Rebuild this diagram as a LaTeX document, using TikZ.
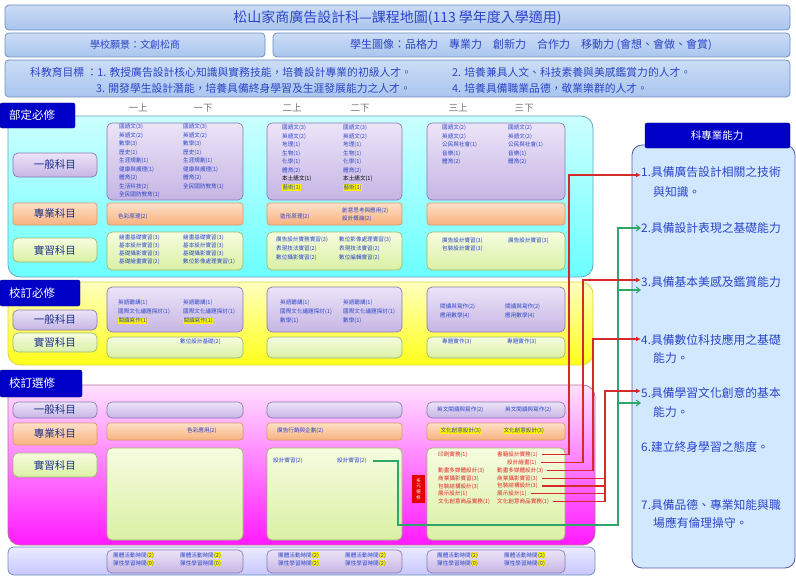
\documentclass[tikz,border=0pt]{standalone}
\usepackage{fontspec}
\setmainfont{Noto Sans CJK TC}
\usetikzlibrary{arrows.meta,calc}

\definecolor{crsblue}{HTML}{2B45C8}
\definecolor{labblue}{HTML}{1C2F8C}
\definecolor{tagblue}{HTML}{0000C8}
\definecolor{abred}{HTML}{D42A2A}
\definecolor{abgreen}{HTML}{2EA86A}
\definecolor{txred}{HTML}{E02828}
\definecolor{barline}{HTML}{6F8FC0}
\definecolor{bartop}{HTML}{A9C5EE}
\definecolor{lavline}{HTML}{8C7BB0}
\definecolor{lavtop}{HTML}{ECE4F8}
\definecolor{lavbot}{HTML}{C6B5E4}
\definecolor{orgline}{HTML}{D89A6A}
\definecolor{orgtop}{HTML}{FDE0C8}
\definecolor{orgbot}{HTML}{F8B27E}
\definecolor{grnline}{HTML}{9CB870}
\definecolor{grntop}{HTML}{F6FCE0}
\definecolor{grnbot}{HTML}{DAF0A4}

\newcommand\crsfont{\fontsize{5.6}{8.5}\selectfont}
\newcommand\hlt[1]{{\setlength{\fboxsep}{0.3pt}\colorbox{yellow}{#1}}}

\begin{document}
\begin{tikzpicture}[x=1pt,y=-1pt,
  every node/.style={inner sep=0pt},
  bar/.style={draw=barline,line width=0.8pt,rounded corners=4pt,top color=white!40!bartop,bottom color=bartop},
  tagbox/.style={draw=black!60!blue,fill=tagblue,rounded corners=2pt},
  tagtext/.style={anchor=west,text=white,font=\fontsize{11.5}{11.5}\selectfont},
  lav/.style={draw=lavline,line width=0.7pt,rounded corners=5pt,top color=lavtop,bottom color=lavbot},
  org/.style={draw=orgline,line width=0.7pt,rounded corners=3pt,top color=orgtop,bottom color=orgbot},
  grn/.style={draw=grnline,line width=0.7pt,rounded corners=5pt,top color=grntop,bottom color=grnbot},
  rowlab/.style={minimum width=84pt,text=labblue,font=\fontsize{10.5}{10.5}\selectfont},
  crs/.style={anchor=north west,align=left,text=crsblue,font=\crsfont},
  one/.style={anchor=west,text=crsblue,font=\crsfont},
  sem/.style={text=black!55,font=\fontsize{9.5}{9.5}\selectfont},
  hd/.style={text=crsblue},
  abil/.style={anchor=west,text=crsblue,font=\fontsize{11.8}{11.8}\selectfont},
  redln/.style={abred,line width=1.2pt,shorten <=4pt},
  redarr/.style={redln,-{Latex[length=5pt,width=5pt]}},
  grnln/.style={abgreen,line width=1.1pt,shorten <=6pt},
  grnarr/.style={grnln,-{Straight Barb[length=4pt,width=6pt]}},
]
\useasboundingbox (0,0) rectangle (796,578);

% header rows
\path[bar] (5,5) rectangle (790,30);
\node[hd,font=\fontsize{14}{14}\selectfont] (title) at (397.5,17.5) {松山家商廣告設計科—課程地圖(113 學年度入學適用)};
\path[bar] (5,33) rectangle (265,57);
\node[hd,font=\fontsize{10}{10}\selectfont] (vision) at (135,45) {學校願景：文創松商};
\path[bar] (273,33) rectangle (790,57);
\node[hd,font=\fontsize{11}{11}\selectfont] (portrait) at (531,45) {學生圖像：品格力\quad 專業力\quad 創新力\quad 合作力\quad 移動力 (會想、會做、會賞)};
\path[bar] (5,60) rectangle (790,97);
\node[hd,anchor=west,font=\fontsize{10.8}{10.8}\selectfont] (goal1) at (30,72) {科教育目標 ：1. 教授廣告設計核心知識與實務技能，培養設計專業的初級人才。};
\node[hd,anchor=west,font=\fontsize{10.8}{10.8}\selectfont] (goal2) at (452,72) {2. 培養兼具人文、科技素養與美感鑑賞力的人才。};
\node[hd,anchor=west,font=\fontsize{10.8}{10.8}\selectfont] (goal3) at (96,88) {3. 開發學生設計潛能，培養具備終身學習及生涯發展能力之人才。};
\node[hd,anchor=west,font=\fontsize{10.8}{10.8}\selectfont] (goal4) at (452,88) {4. 培養具備職業品德，敬業樂群的人才。};

% panels
\path[draw=cyan!50!gray,line width=0.8pt,top color=cyan!20,bottom color=cyan!58,rounded corners=12pt] (8,116) rectangle (593,277);
\path[draw=yellow!70!gray,line width=0.8pt,top color=yellow!25,bottom color=yellow!90,rounded corners=12pt] (8,282) rectangle (593,365);
\path[draw=magenta!40!gray,line width=0.8pt,top color=magenta!12,bottom color=magenta!90,rounded corners=12pt] (8,385) rectangle (595,545);
\path[draw=barline,line width=0.8pt,top color=blue!8,bottom color=blue!22,rounded corners=6pt] (8,547) rectangle (595,575);

% section tags
\path[tagbox] (0,103) rectangle (75,128);
\node[tagtext] (tagA) at (9,115.5) {部定必修};
\path[tagbox] (0,280) rectangle (80,306);
\node[tagtext] (tagB) at (9,293) {校訂必修};
\path[tagbox] (0,370) rectangle (82,397);
\node[tagtext] (tagC) at (9,383.5) {校訂選修};

% semesters
\foreach \x/\t [count=\i] in {138/一上,203/一下,292/二上,360/二下,458/三上,524/三下}
  \node[sem] (sem\i) at (\x,108) {\t};

% row labels
\foreach \n/\y/\h/\s/\t in {A1/165/24/lav/一般科目,A2/214/22/org/專業科目,A3/250/24/grn/實習科目,
  B1/320/20/lav/一般科目,B3/342.5/19/grn/實習科目,
  C1/410/16/lav/一般科目,C2/434/22/org/專業科目,C3/465/24/grn/實習科目}
  \node[\s,rowlab,minimum height=\h pt] (lab\n) at (55,\y) {\t};

% course boxes
\foreach \l/\r in {107/243,267/402,427/565}{
  \path[lav] (\l,123) rectangle (\r,200);
  \path[org] (\l,203) rectangle (\r,225);
  \path[grn] (\l,232) rectangle (\r,270);
  \path[lav] (\l,287) rectangle (\r,332);
  \path[grn] (\l,337) rectangle (\r,358);
  \path[lav] (\l,402) rectangle (\r,418);
  \path[org] (\l,423) rectangle (\r,440);
  \path[grn] (\l,448) rectangle (\r,540);
  \path[lav] (\l,550) rectangle (\r,573);
}

% 部定必修
\node[crs] (A1gl) at (119,124) {國語文(3)\\英語文(2)\\數學(3)\\歷史(1)\\生涯規劃(1)\\健康與護理(1)\\體育(2)\\生活科技(2)\\全民國防教育(1)};
\node[crs] (A1gr) at (183,124) {國語文(3)\\英語文(2)\\數學(3)\\歷史(1)\\生涯規劃(1)\\健康與護理(1)\\體育(2)\\全民國防教育(1)};
\node[crs] (A2gl) at (282,125) {國語文(3)\\英語文(2)\\地理(1)\\生物(1)\\化學(1)\\體育(2)\\\textcolor{black}{本土語文(1)}\\\hlt{藝術(1)}};
\node[crs] (A2gr) at (343,125) {國語文(3)\\英語文(2)\\地理(1)\\生物(1)\\化學(1)\\體育(2)\\\textcolor{black}{本土語文(1)}\\\hlt{藝術(1)}};
\node[crs] (A3gl) at (442,125) {國語文(2)\\英語文(2)\\公民與社會(1)\\音樂(1)\\體育(2)};
\node[crs] (A3gr) at (508,125) {國語文(2)\\英語文(2)\\公民與社會(1)\\音樂(1)\\體育(2)};
\node[one] (A1p) at (118,217) {色彩原理(2)};
\node[one] (A2pl) at (280,217) {造形原理(2)};
\node[crs] (A2pr) at (342,207) {創意思考與應用(2)\\設計概論(2)};
\node[crs,font=\fontsize{5.6}{8}\selectfont] (A1sl) at (119,235) {繪畫基礎實習(3)\\基本設計實習(3)\\基礎攝影實習(3)\\基礎繪畫實習(2)};
\node[crs,font=\fontsize{5.6}{8}\selectfont] (A1sr) at (183,235) {繪畫基礎實習(3)\\基本設計實習(3)\\基礎攝影實習(3)\\數位影像處理實習(1)};
\node[crs,font=\fontsize{5.6}{9}\selectfont] (A2sl) at (276,237) {廣告設計實務實習(3)\\表現技法實習(2)\\數位攝影實習(2)};
\node[crs,font=\fontsize{5.6}{9}\selectfont] (A2sr) at (339,237) {數位影像處理實習(3)\\表現技法實習(2)\\數位編輯實習(2)};
\node[crs,font=\fontsize{5.6}{8}\selectfont] (A3sl) at (442,238) {廣告設計實習(3)\\包裝設計實習(3)};
\node[crs] (A3sr) at (508,238) {廣告設計實習(3)};

% 校訂必修
\node[crs,font=\fontsize{5.6}{9}\selectfont] (B1gl) at (118,300) {英語聽講(1)\\國際文化議題探討(1)\\\hlt{閱讀寫作(1)}};
\node[crs,font=\fontsize{5.6}{9}\selectfont] (B1gr) at (183,300) {英語聽講(1)\\國際文化議題探討(1)\\\hlt{閱讀寫作(1)}};
\node[crs,font=\fontsize{5.6}{9}\selectfont] (B2gl) at (280,300) {英語聽講(1)\\國際文化議題探討(1)\\數學(1)};
\node[crs,font=\fontsize{5.6}{9}\selectfont] (B2gr) at (343,300) {英語聽講(1)\\國際文化議題探討(1)\\數學(1)};
\node[crs] (B3gl) at (440,304) {閱讀與寫作(2)\\應用數學(4)};
\node[crs] (B3gr) at (505,304) {閱讀與寫作(2)\\應用數學(4)};
\node[one] (B1s) at (180,342) {數位設計基礎(2)};
\node[one] (B3sl) at (442,342) {專題實作(3)};
\node[one] (B3sr) at (507,342) {專題實作(3)};

% 校訂選修
\node[one] (C1p) at (187,431) {色彩應用(2)};
\node[one] (C2p) at (277,431) {廣告行銷與企劃(2)};
\node[one] (C3gl) at (437,410) {英文閱讀與寫作(2)};
\node[one] (C3gr) at (505,410) {英文閱讀與寫作(2)};
\node[one] (C3pl) at (440,431) {\hlt{文化創意設計(3)}};
\node[one] (C3pr) at (503,431) {\hlt{文化創意設計(3)}};
\node[one] (g1) at (273,461) {設計實習(2)};
\node[one] (g2) at (337,461) {設計實習(2)};
\node[crs,text=txred,font=\fontsize{5.6}{7.8}\selectfont] (C3sl) at (438,452) {印刷實務(1)\\\mbox{}\\動畫多媒體設計(3)\\商業攝影實習(3)\\包裝結構設計(3)\\展示設計(1)\\文化創意商品實務(1)};
\foreach \x/\t [count=\i] in {497/書籍設計實務(1),507/設計繪畫(1),497/動畫多媒體設計(3),497/商業攝影實習(3),
  497/包裝結構設計(3),497/展示設計(1),497/文化創意商品實務(1)}
  \node[one,text=txred] (r\i) at (\x,447+7.8*\i) {\t};
\path[fill=red!90!black] (412,475) rectangle (425,503);
\node[align=center,text=white,font=\fontsize{4.5}{5.6}\selectfont] (tab) at (418.5,489) {多\\元\\選\\修};

% 團體活動 / 彈性學習
\foreach \x/\n/\a/\b in {113/1/(2)/(0),278/2/(2)/(2),437/3/(2)/(0)}{
  \node[crs,font=\fontsize{5.6}{8}\selectfont] (D\n l) at (\x,552) {團體活動時間\hlt{\a}\\彈性學習時間\hlt{\b}};
  \node[crs,font=\fontsize{5.6}{8}\selectfont] (D\n r) at (\x+67,552) {團體活動時間\hlt{\a}\\彈性學習時間\hlt{\b}};
}

% 科專業能力
\path[draw=blue!30!gray,line width=0.8pt,fill=blue!50!cyan!18,rounded corners=10pt] (632,145) rectangle (795,568);
\path[tagbox] (645,123) rectangle (790,148);
\node[text=white,font=\fontsize{10.5}{10.5}\selectfont] (abhead) at (717,136) {科專業能力};
\node[abil] (a1) at (641,172) {1.具備廣告設計相關之技術};
\node[abil] (a1b) at (653,192) {與知識。};
\node[abil] (a2) at (641,228) {2.具備設計表現之基礎能力};
\node[abil] (a3) at (641,282) {3.具備基本美感及鑑賞能力};
\node[abil] (a4) at (641,340) {4.具備數位科技應用之基礎};
\node[abil] (a4b) at (653,358) {能力。};
\node[abil] (a5) at (641,393) {5.具備學習文化創意的基本};
\node[abil] (a5b) at (653,412) {能力。};
\node[abil] (a6) at (641,447) {6.建立終身學習之態度。};
\node[abil] (a7) at (641,505) {7.具備品德、專業知能與職};
\node[abil] (a7b) at (653,523) {場應有倫理操守。};

% connectors
\coordinate (v1) at (569,0);
\coordinate (v3) at (583,0);
\coordinate (v4) at (593,0);
\coordinate (v5) at (605,0);
\coordinate (gx) at (398,525);
\coordinate (gt) at (618,525);
\coordinate (a1r) at ($(a1.west)+(0,3)$);
\coordinate (a3r) at ($(a3.west)+(0,-2)$);
\coordinate (a3g) at ($(a3.west)+(0,8)$);
\coordinate (a4r) at ($(a4.west)+(0,-1)$);
\coordinate (a5r) at ($(a5.west)+(0,-2)$);
\coordinate (a5g) at ($(a5.west)+(0,10)$);
\draw[grnarr] (g2.east) -| (gx) -- (gt) |- (a2.west);
\draw[grnarr,shorten <=0pt] (gt |- a3g) -- (a3g);
\draw[grnarr,shorten <=0pt] (gt |- a5g) -- (a5g);
\draw[redarr] (r1.east) -| (v1 |- a1r) -- (a1r);
\draw[redarr] (r2.east) -| (v3 |- a3r) -- (a3r);
\draw[redarr] (r3.east) -| (v4 |- a4r) -- (a4r);
\draw[redarr] (r7.east) -| (v5 |- a5r) -- (a5r);
\foreach \i in {4,5,6}
  \draw[redln] (r\i.east) -- (r\i.east -| v5);
\end{tikzpicture}
\end{document}
